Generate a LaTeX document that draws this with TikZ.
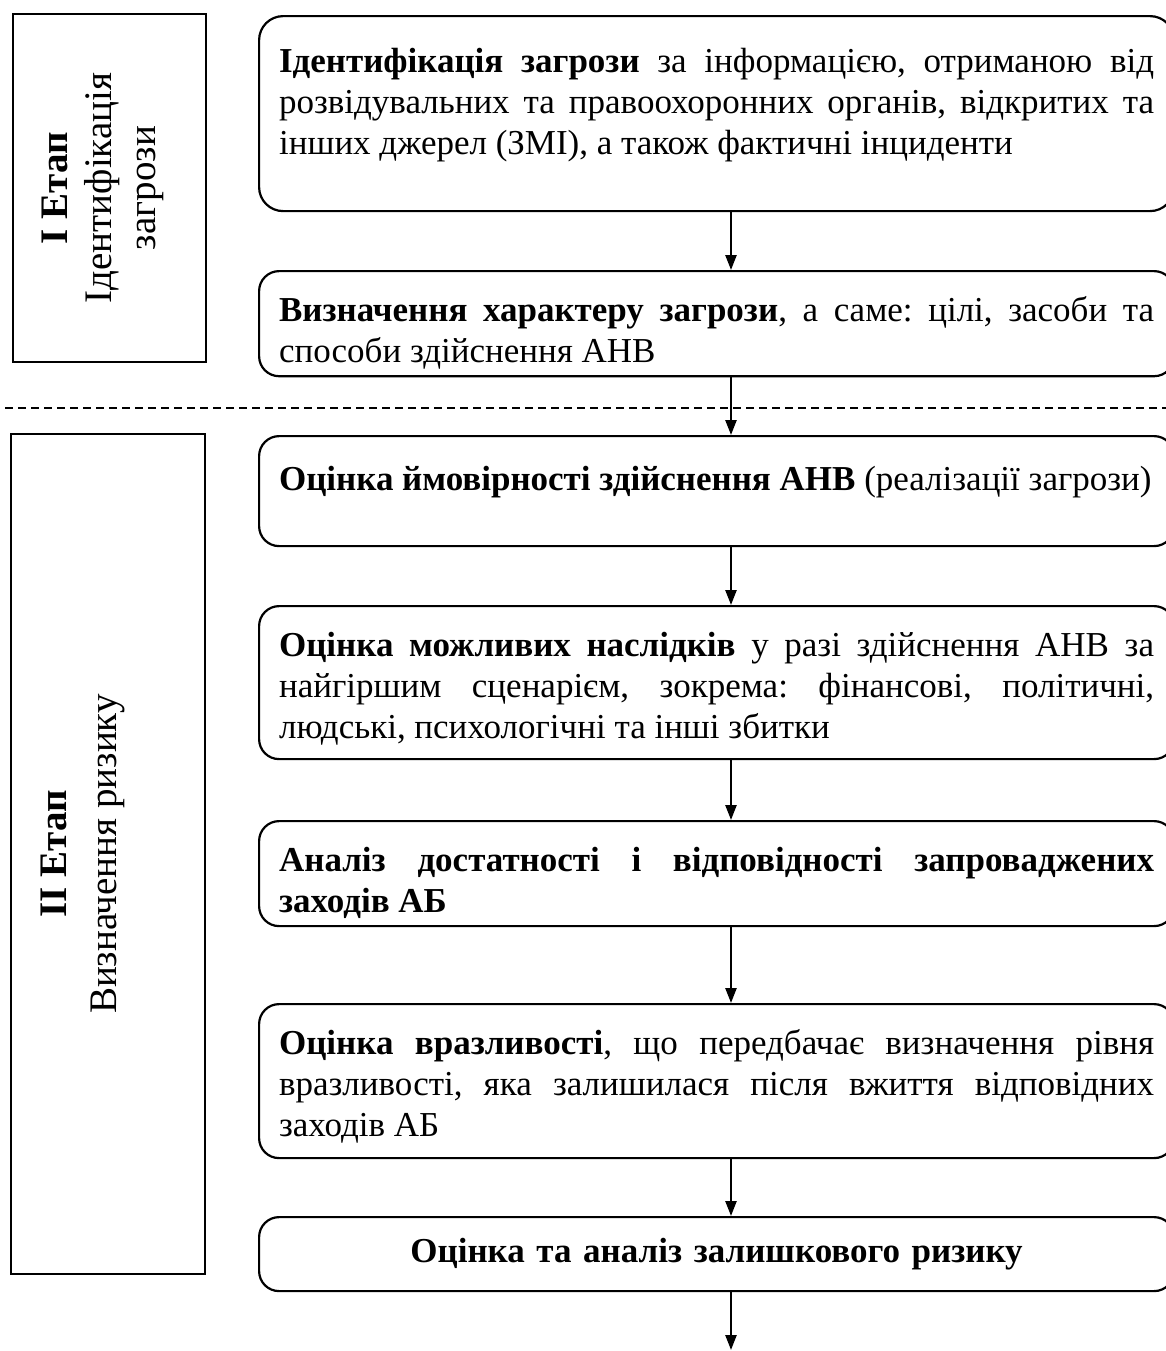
\documentclass[tikz,border=0pt]{standalone}
\usepackage{fontspec}
\setmainfont{Liberation Serif}
\usetikzlibrary{positioning, arrows.meta}

\tikzset{
    stage/.style={draw, line width=1.1pt, rotate=90, align=center, text depth=10.3pt,
        font=\fontsize{19.5}{22}\selectfont},
    block/.style={draw, line width=1.1pt, rounded corners=10pt, anchor=north west,
        text width=437.5pt, inner xsep=10pt, align=justify, text height=18pt,
        font=\fontsize{17.5}{20.5}\selectfont\frenchspacing},
    flow/.style={line width=1.2pt, -{Triangle[length=7.5pt, width=5.5pt]}},
    stageline/.style={line width=1pt, dash pattern=on 4pt off 2.5pt}
}

\begin{document}
\begin{tikzpicture}[x=0.5pt, y=-0.5pt]
    \useasboundingbox (0,0) rectangle (1166,1351);
    \node[stage, minimum width=174pt, minimum height=96.5pt] (etap1) at (109.5,188)
        {\textbf{I Етап}\\Ідентифікація\\загрози};
    \node[stage, minimum width=420pt, minimum height=97pt, text depth=29pt,
        font=\fontsize{19.5}{25}\selectfont] (etap2) at (108,854)
        {\textbf{II Етап}\\Визначення ризику};
    \node[block, minimum height=97.5pt, rounded corners=12pt, text depth=59pt] (zagroza) at (258,15)
        {\textbf{Ідентифікація загрози} за інформацією, отриманою від\linebreak
        розвідувальних та правоохоронних органів, відкритих та\linebreak
        інших джерел (ЗМІ), а також фактичні інциденти};
    \node[block, minimum height=52.5pt, text height=22pt] (harakter) at (258,270)
        {\textbf{Визначення характеру загрози}, а саме: цілі, засоби та\linebreak
        способи здійснення АНВ};
    \node[block, minimum height=55pt, text depth=19pt] (jmovirnist) at (258,435)
        {\textbf{Оцінка ймовірності здійснення АНВ} (реалізації загрози)};
    \node[block, minimum height=76.5pt] (naslidky) at (258,605)
        {\textbf{Оцінка можливих наслідків} у разі здійснення АНВ за\linebreak
        найгіршим сценарієм, зокрема: фінансові, політичні,\linebreak
        людські, психологічні та інші збитки};
    \node[block, minimum height=52.5pt, text height=21pt] (analiz) at (258,820)
        {\textbf{Аналіз достатності і відповідності запроваджених\linebreak
        заходів АБ}};
    \node[block, minimum height=77pt] (vrazlyvist) at (258,1003)
        {\textbf{Оцінка вразливості}, що передбачає визначення рівня\linebreak
        вразливості, яка залишилася після вжиття відповідних\linebreak
        заходів АБ};
    \node[block, minimum height=37pt, align=center, text height=12pt] (ryzyk) at (258,1216)
        {\textbf{Оцінка та аналіз залишкового ризику}};
    \coordinate (axis) at (731,0);
    \coordinate (kinec) at (731,1350);
    \draw[stageline] (5,408) -- (1166,408);
    \draw[flow] (zagroza.south -| axis) -- (harakter.north -| axis);
    \draw[flow] (harakter.south -| axis) -- (jmovirnist.north -| axis);
    \draw[flow] (jmovirnist.south -| axis) -- (naslidky.north -| axis);
    \draw[flow] (naslidky.south -| axis) -- (analiz.north -| axis);
    \draw[flow] (analiz.south -| axis) -- (vrazlyvist.north -| axis);
    \draw[flow] (vrazlyvist.south -| axis) -- (ryzyk.north -| axis);
    \draw[flow] (ryzyk.south -| axis) -- (kinec);
\end{tikzpicture}
\end{document}
